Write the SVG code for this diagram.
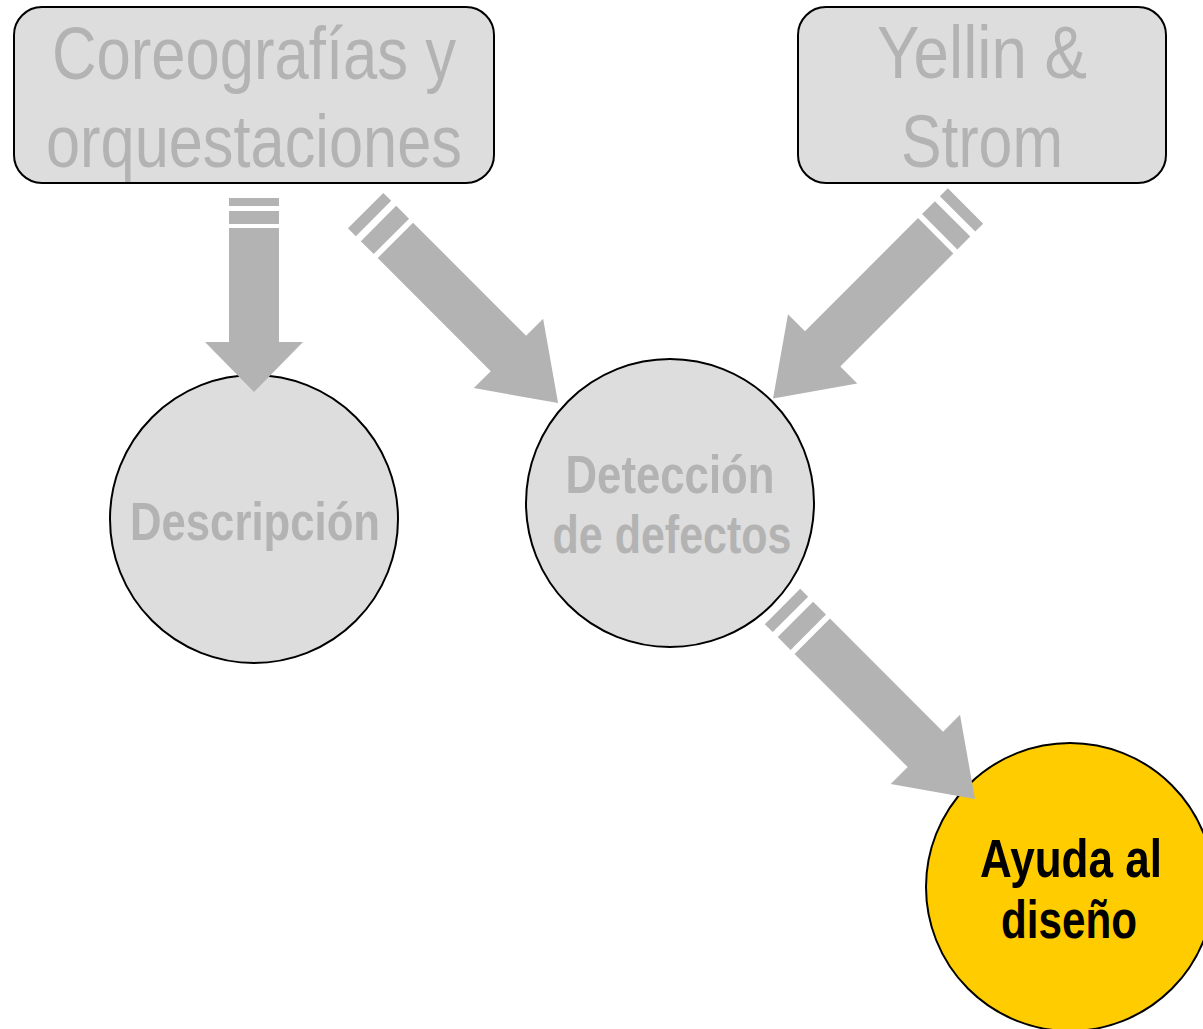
<svg xmlns="http://www.w3.org/2000/svg" width="1203" height="1029" viewBox="0 0 1203 1029">
<style>
.box{fill:#dddddd;stroke:#000;stroke-width:2}
.circ{fill:#dddddd;stroke:#000;stroke-width:2}
.gold{fill:#ffcc00;stroke:#000;stroke-width:2}
.big{font-family:"Liberation Sans Narrow","Liberation Sans",Arial,sans-serif;font-size:75px;fill:#b3b3b3;text-anchor:middle}
.mid{font-family:"Liberation Sans Narrow","Liberation Sans",Arial,sans-serif;font-size:53px;font-weight:bold;fill:#b3b3b3;text-anchor:middle}
.dark{fill:#000}
.arr{fill:#b3b3b3}
</style>
<defs>
<path id="arrow" d="M0,-25 H8 V25 H0 Z M13,-25 H26 V25 H13 Z M30,-25 H144 V-49 L194,0 L144,49 V25 H30 Z"/>
</defs>
<g id="coreografias">
<rect class="box" x="14" y="7" width="480" height="176" rx="28" ry="28"/>
<text class="big" x="254" y="79" textLength="404" lengthAdjust="spacingAndGlyphs">Coreografías y</text>
<text class="big" x="254" y="167" textLength="416" lengthAdjust="spacingAndGlyphs">orquestaciones</text>
</g>
<g id="yellin">
<rect class="box" x="798" y="7" width="368" height="176" rx="28" ry="28"/>
<text class="big" x="982" y="78" textLength="210" lengthAdjust="spacingAndGlyphs">Yellin &amp;</text>
<text class="big" x="982" y="167" textLength="162" lengthAdjust="spacingAndGlyphs">Strom</text>
</g>
<g id="descripcion">
<circle class="circ" cx="254" cy="519" r="144"/>
<text class="mid" x="255" y="540" textLength="250" lengthAdjust="spacingAndGlyphs">Descripción</text>
</g>
<g id="deteccion">
<circle class="circ" cx="670" cy="503" r="144"/>
<text class="mid" x="670" y="493" textLength="209" lengthAdjust="spacingAndGlyphs">Detección</text>
<text class="mid" x="672" y="553" textLength="239" lengthAdjust="spacingAndGlyphs">de defectos</text>
</g>
<g id="ayuda">
<circle class="gold" cx="1070" cy="887" r="144"/>
<text class="mid dark" x="1071" y="877" textLength="182" lengthAdjust="spacingAndGlyphs">Ayuda al</text>
<text class="mid dark" x="1069" y="938" textLength="136" lengthAdjust="spacingAndGlyphs">diseño</text>
</g>
<g id="connectors" class="arr">
<use href="#arrow" transform="translate(254,198) rotate(90)"/>
<use href="#arrow" transform="translate(365.6,210.6) rotate(45) scale(1.403,1)"/>
<use href="#arrow" transform="translate(965.5,206) rotate(135) scale(1.403,1)"/>
<use href="#arrow" transform="translate(782.5,606.5) rotate(45) scale(1.403,1)"/>
</g>
</svg>
